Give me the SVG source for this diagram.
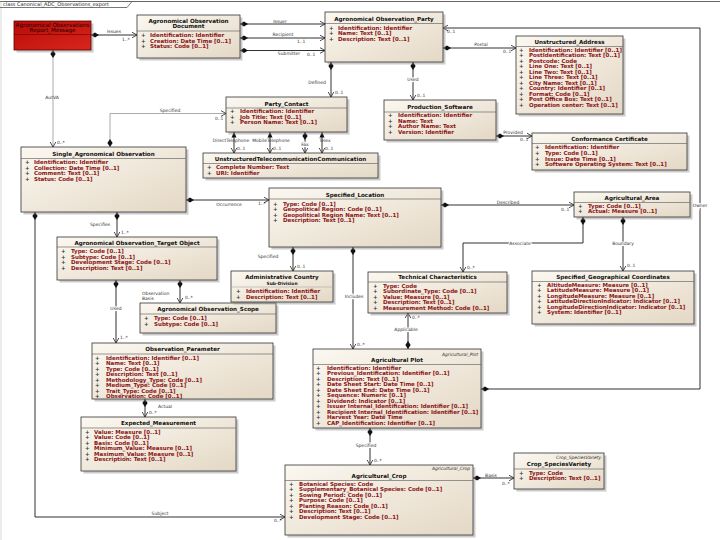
<svg xmlns="http://www.w3.org/2000/svg" width="720" height="540" viewBox="0 0 720 540">
<defs>
<linearGradient id="g" x1="0" y1="0" x2="1" y2="1"><stop offset="0" stop-color="#fbf8f1"/><stop offset="1" stop-color="#e4d8c5"/></linearGradient>
<linearGradient id="gr" x1="0" y1="0" x2="1" y2="1"><stop offset="0" stop-color="#b80c08"/><stop offset="1" stop-color="#d8261c"/></linearGradient>
<marker id="dia" markerUnits="userSpaceOnUse" markerWidth="10" markerHeight="6" refX="0" refY="0" orient="auto" overflow="visible"><path d="M0,0 L4,-2.6 L8,0 L4,2.6 Z" fill="#111"/></marker>
<marker id="arr" markerUnits="userSpaceOnUse" markerWidth="6" markerHeight="6" refX="0" refY="0" orient="auto" overflow="visible"><path d="M-5,-2.8 L0,0 L-5,2.8" fill="none" stroke="#222" stroke-width="0.8"/></marker>
<style>
.sh{fill:#8c8c8c;opacity:0.45}
.box{fill:url(#g);stroke:#333;stroke-width:0.8}
.sep{stroke:#555;stroke-width:0.6}
.t{font-family:"DejaVu Sans",sans-serif;font-weight:bold;font-size:5.6px;fill:#111;text-anchor:middle}
.st{font-family:"DejaVu Sans",sans-serif;font-style:italic;font-size:4.4px;fill:#333;text-anchor:end}
.a{font-family:"DejaVu Sans",sans-serif;font-weight:bold;font-size:5.5px;fill:#8a1414}
.pl{fill:#333}
.rt{font-family:"DejaVu Sans",sans-serif;font-size:5.6px;fill:#1a0000;text-anchor:middle}
.l{font-family:"DejaVu Sans",sans-serif;font-size:4.5px;fill:#333;text-anchor:middle}
.lb{font-family:"DejaVu Sans",sans-serif;font-size:4.5px;fill:#333;text-anchor:middle;paint-order:stroke;stroke:#fff;stroke-width:2.2}
.m{font-family:"DejaVu Sans",sans-serif;font-size:4.4px;fill:#333}
.c{fill:none;stroke:#1a1a1a;stroke-width:0.9;marker-end:url(#arr)}
.cd{fill:none;stroke:#1a1a1a;stroke-width:0.9;marker-start:url(#dia);marker-end:url(#arr)}
.cf{fill:none;stroke:#888;stroke-width:0.7;marker-start:url(#dia);marker-end:url(#arr)}
.tri{fill:#111}
</style>
</defs>
<rect width="720" height="540" fill="#fff"/>
<g id="frame">
<line x1="0" y1="1.5" x2="720" y2="1.5" stroke="#555" stroke-width="0.9"/>
<line x1="1" y1="1.5" x2="1" y2="540" stroke="#ccc" stroke-width="0.8"/>
<path d="M0,7.5 H127 L132,1.5" fill="none" stroke="#555" stroke-width="0.8"/>
<text x="3" y="6" font-family="DejaVu Sans, sans-serif" font-size="5px" fill="#222">class Canonical_ADC_Observations_export</text>
</g>

<g id="connectors">
<path class="cd" d="M91,35 H137"/>
<path class="cd" d="M240,24 H325"/>
<path class="cd" d="M240,38 H325"/>
<path class="cd" d="M240,50.5 H325"/>
<path class="cd" d="M331,62 V97"/>
<path class="cd" d="M413,62 V100"/>
<path class="cd" d="M443,48 H516"/>
<path class="cd" d="M481,389 H700 V28 H443"/>
<path class="cd" d="M496,136 H532"/>
<path class="c" d="M234,132 V153"/>
<path class="c" d="M270,132 V153"/>
<path class="cd" d="M305,132 V153"/>
<path class="c" d="M322,132 V153"/>
<polygon class="tri" points="231.5,137.5 234,132 236.5,137.5"/>
<polygon class="tri" points="267.5,137.5 270,132 272.5,137.5"/>
<polygon class="tri" points="319.5,137.5 322,132 324.5,137.5"/>
<path class="cf" d="M110,147 V113.5 H226"/>
<path class="cf" d="M53,50 V147"/>
<path class="cd" d="M186,200 H269"/>
<path class="cd" d="M117,212 V237"/>
<path class="cd" d="M35,212 V517 H285"/>
<path class="cd" d="M180,280 V303"/>
<path class="cd" d="M116,280 V343"/>
<path class="cd" d="M145,399 V417"/>
<path class="cd" d="M441,205 H574"/>
<path class="cd" d="M293,247 V271"/>
<path class="cd" d="M353,247 V349"/>
<path class="cd" d="M583,217 V243 H463 V272"/>
<path class="cd" d="M623,217 V271"/>
<path class="cd" d="M408,349 V313"/>
<path class="cd" d="M370,428 V465"/>
<path class="cd" d="M473,478 H514"/>

<text class="l" x="114" y="32.5">Issues</text>
<text class="m" x="122" y="41">1..*</text>
<text class="l" x="280" y="22.5">Issuer</text>
<text class="l" x="283" y="35.5">Recipient</text>
<text class="m" x="297" y="43">1..1</text>
<text class="l" x="289" y="55">Submitter</text>
<text class="m" x="307" y="55.5">0..1</text>
<text class="l" x="317" y="84">Defined</text>
<text class="m" x="335" y="94">0..1</text>
<text class="lb" x="413" y="80.5">Used</text>
<text class="m" x="417" y="97">0..1</text>
<text class="l" x="481" y="45.5">Postal</text>
<text class="m" x="503" y="53">0..1</text>
<text class="m" x="447" y="33">0..1</text>
<text class="lb" x="700" y="207">Owner</text>
<text class="l" x="513" y="134">Provided</text>
<text class="m" x="520" y="141">0..1</text>
<text class="l" x="231" y="142">DirectTelephone</text>
<text class="l" x="271" y="142">MobileTelephone</text>
<text class="lb" x="305" y="145.5">Fax</text>
<text class="l" x="325" y="142">Telex</text>
<text class="m" x="237" y="150">0..1</text>
<text class="m" x="273" y="150">0..1</text>
<text class="m" x="325" y="150">0..1</text>
<text class="l" x="170" y="112">Specified</text>
<text class="m" x="215" y="119.5">0..1</text>
<text class="l" x="52" y="98.5">AutVA</text>
<text class="m" x="57" y="144">0..*</text>
<text class="l" x="229" y="206">Occurrence</text>
<text class="m" x="258" y="204.5">1..*</text>
<text class="l" x="100" y="225.5">Specifies</text>
<text class="m" x="121" y="234">1..*</text>
<text class="l" x="160" y="515">Subject</text>
<text class="m" x="274" y="522">0..*</text>
<text class="l" x="142" y="294.5" style="text-anchor:start">Observation</text>
<text class="l" x="142" y="299.5" style="text-anchor:start">Basis</text>
<text class="m" x="185" y="298.5">0..*</text>
<text class="lb" x="116" y="309.5">Used</text>
<text class="m" x="120" y="339">1..*</text>
<text class="l" x="165" y="408">Actual</text>
<text class="m" x="149" y="413.5">0..*</text>
<text class="l" x="508" y="204">Described</text>
<text class="m" x="561" y="210.5">0..1</text>
<text class="l" x="268" y="258">Specified</text>
<text class="m" x="297" y="268">0..1</text>
<text class="lb" x="354" y="297.5">Includes</text>
<text class="m" x="357" y="346">0..*</text>
<text class="lb" x="520" y="244.5">Associate</text>
<text class="m" x="467" y="268.5">0..*</text>
<text class="lb" x="623" y="244.5">Boundary</text>
<text class="m" x="627" y="266.5">0..1</text>
<text class="lb" x="406" y="330.5">Applicable</text>
<text class="m" x="412" y="318.5">0..*</text>
<text class="lb" x="366" y="446.5">Specified</text>
<text class="m" x="374" y="461.5">0..*</text>
<text class="l" x="491" y="477">Basis</text>
<text class="m" x="502" y="484.5">0..*</text>
</g>

<g id="report-message">
<rect class="sh" x="16.5" y="23.5" width="77" height="29"/>
<rect x="14" y="21" width="77" height="29" fill="url(#gr)" stroke="#5a0000" stroke-width="0.8"/>
<text class="rt" x="52.5" y="26.8">Agronomical Observations</text>
<text class="rt" x="52.5" y="32">Report_Message</text>
<line x1="14" y1="34.5" x2="91" y2="34.5" stroke="#6a0000" stroke-width="0.6"/>
</g>

<g id="observation-document">
<rect class="sh" x="139.5" y="17.5" width="103" height="43"/>
<rect class="box" x="137" y="15" width="103" height="43"/>
<text class="t" x="188.5" y="22.5">Agronomical Observation</text>
<text class="t" x="188.5" y="28">Document</text>
<line class="sep" x1="137" y1="31" x2="240" y2="31"/>
<text class="a" y="37"><tspan class="pl" x="141">+</tspan><tspan x="150">Identification: Identifier</tspan></text>
<text class="a" y="42.5"><tspan class="pl" x="141">+</tspan><tspan x="150">Creation: Date Time [0..1]</tspan></text>
<text class="a" y="48"><tspan class="pl" x="141">+</tspan><tspan x="150">Status: Code [0..1]</tspan></text>
</g>

<g id="observation-party">
<rect class="sh" x="327.5" y="14.5" width="118" height="50"/>
<rect class="box" x="325" y="12" width="118" height="50"/>
<text class="t" x="384" y="21">Agronomical Observation_Party</text>
<line class="sep" x1="325" y1="23.5" x2="443" y2="23.5"/>
<text class="a" y="29.5"><tspan class="pl" x="329">+</tspan><tspan x="338">Identification: Identifier</tspan></text>
<text class="a" y="35"><tspan class="pl" x="329">+</tspan><tspan x="338">Name: Text [0..1]</tspan></text>
<text class="a" y="40.5"><tspan class="pl" x="329">+</tspan><tspan x="338">Description: Text [0..1]</tspan></text>
</g>

<g id="unstructured-address">
<rect class="sh" x="518.5" y="38.5" width="107" height="78"/>
<rect class="box" x="516" y="36" width="107" height="78"/>
<text class="t" x="569.5" y="44">Unstructured_Address</text>
<line class="sep" x1="516" y1="46.5" x2="623" y2="46.5"/>
<text class="a" y="52"><tspan class="pl" x="519">+</tspan><tspan x="529">Identification: Identifier [0..1]</tspan></text>
<text class="a" y="57.45"><tspan class="pl" x="519">+</tspan><tspan x="529">PostIdentification: Text [0..1]</tspan></text>
<text class="a" y="62.9"><tspan class="pl" x="519">+</tspan><tspan x="529">Postcode: Code</tspan></text>
<text class="a" y="68.35"><tspan class="pl" x="519">+</tspan><tspan x="529">Line One: Text [0..1]</tspan></text>
<text class="a" y="73.8"><tspan class="pl" x="519">+</tspan><tspan x="529">Line Two: Text [0..1]</tspan></text>
<text class="a" y="79.25"><tspan class="pl" x="519">+</tspan><tspan x="529">Line Three: Text [0..1]</tspan></text>
<text class="a" y="84.7"><tspan class="pl" x="519">+</tspan><tspan x="529">City Name: Text [0..1]</tspan></text>
<text class="a" y="90.15"><tspan class="pl" x="519">+</tspan><tspan x="529">Country: Identifier [0..1]</tspan></text>
<text class="a" y="95.6"><tspan class="pl" x="519">+</tspan><tspan x="529">Format: Code [0..1]</tspan></text>
<text class="a" y="101.05"><tspan class="pl" x="519">+</tspan><tspan x="529">Post Office Box: Text [0..1]</tspan></text>
<text class="a" y="106.5"><tspan class="pl" x="519">+</tspan><tspan x="529">Operation center: Text [0..1]</tspan></text>
</g>

<g id="production-software">
<rect class="sh" x="386.5" y="102.5" width="112" height="40"/>
<rect class="box" x="384" y="100" width="112" height="40"/>
<text class="t" x="440" y="109">Production_Software</text>
<line class="sep" x1="384" y1="112" x2="496" y2="112"/>
<text class="a" y="117"><tspan class="pl" x="388">+</tspan><tspan x="398">Identification: Identifier</tspan></text>
<text class="a" y="122.5"><tspan class="pl" x="388">+</tspan><tspan x="398">Name: Text</tspan></text>
<text class="a" y="128"><tspan class="pl" x="388">+</tspan><tspan x="398">Author Name: Text</tspan></text>
<text class="a" y="133.5"><tspan class="pl" x="388">+</tspan><tspan x="398">Version: Identifier</tspan></text>
</g>

<g id="conformance-certificate">
<rect class="sh" x="534.5" y="135.5" width="155" height="37"/>
<rect class="box" x="532" y="133" width="155" height="37"/>
<text class="t" x="609.5" y="141">Conformance Certificate</text>
<line class="sep" x1="532" y1="143.5" x2="687" y2="143.5"/>
<text class="a" y="149"><tspan class="pl" x="535">+</tspan><tspan x="545">Identification: Identifier</tspan></text>
<text class="a" y="154.8"><tspan class="pl" x="535">+</tspan><tspan x="545">Type: Code [0..1]</tspan></text>
<text class="a" y="160.6"><tspan class="pl" x="535">+</tspan><tspan x="545">Issue: Date Time [0..1]</tspan></text>
<text class="a" y="166.4"><tspan class="pl" x="535">+</tspan><tspan x="545">Software Operating System: Text [0..1]</tspan></text>
</g>

<g id="party-contact">
<rect class="sh" x="228.5" y="99.5" width="121" height="35"/>
<rect class="box" x="226" y="97" width="121" height="35"/>
<text class="t" x="286.5" y="105.5">Party_Contact</text>
<line class="sep" x1="226" y1="108" x2="347" y2="108"/>
<text class="a" y="113"><tspan class="pl" x="230">+</tspan><tspan x="240">Identification: Identifier</tspan></text>
<text class="a" y="118.5"><tspan class="pl" x="230">+</tspan><tspan x="240">Job Title: Text [0..1]</tspan></text>
<text class="a" y="124"><tspan class="pl" x="230">+</tspan><tspan x="240">Person Name: Text [0..1]</tspan></text>
</g>

<g id="telecommunication">
<rect class="sh" x="205.5" y="155.5" width="175" height="25"/>
<rect class="box" x="203" y="153" width="175" height="25"/>
<text class="t" x="290.5" y="161">UnstructuredTelecommunicationCommunication</text>
<line class="sep" x1="203" y1="163.5" x2="378" y2="163.5"/>
<text class="a" y="169"><tspan class="pl" x="207">+</tspan><tspan x="216">Complete Number: Text</tspan></text>
<text class="a" y="174.5"><tspan class="pl" x="207">+</tspan><tspan x="216">URI: Identifier</tspan></text>
</g>

<g id="single-observation">
<rect class="sh" x="23.5" y="149.5" width="165" height="65"/>
<rect class="box" x="21" y="147" width="165" height="65"/>
<text class="t" x="103.5" y="156">Single_Agronomical Observation</text>
<line class="sep" x1="21" y1="158.5" x2="186" y2="158.5"/>
<text class="a" y="164"><tspan class="pl" x="25">+</tspan><tspan x="34">Identification: Identifier</tspan></text>
<text class="a" y="169.5"><tspan class="pl" x="25">+</tspan><tspan x="34">Collection: Date Time [0..1]</tspan></text>
<text class="a" y="175"><tspan class="pl" x="25">+</tspan><tspan x="34">Comment: Text [0..1]</tspan></text>
<text class="a" y="180.5"><tspan class="pl" x="25">+</tspan><tspan x="34">Status: Code [0..1]</tspan></text>
</g>

<g id="target-object">
<rect class="sh" x="59.5" y="239.5" width="160" height="43"/>
<rect class="box" x="57" y="237" width="160" height="43"/>
<text class="t" x="137" y="244.5">Agronomical Observation_Target Object</text>
<line class="sep" x1="57" y1="247" x2="217" y2="247"/>
<text class="a" y="253"><tspan class="pl" x="61">+</tspan><tspan x="71">Type: Code [0..1]</tspan></text>
<text class="a" y="258.5"><tspan class="pl" x="61">+</tspan><tspan x="71">Subtype: Code [0..1]</tspan></text>
<text class="a" y="264"><tspan class="pl" x="61">+</tspan><tspan x="71">Development Stage: Code [0..1]</tspan></text>
<text class="a" y="269.5"><tspan class="pl" x="61">+</tspan><tspan x="71">Description: Text [0..1]</tspan></text>
</g>

<g id="observation-scope">
<rect class="sh" x="142.5" y="305.5" width="136" height="30"/>
<rect class="box" x="140" y="303" width="136" height="30"/>
<text class="t" x="208" y="311">Agronomical Observation_Scope</text>
<line class="sep" x1="140" y1="314" x2="276" y2="314"/>
<text class="a" y="320"><tspan class="pl" x="144">+</tspan><tspan x="154">Type: Code [0..1]</tspan></text>
<text class="a" y="325.5"><tspan class="pl" x="144">+</tspan><tspan x="154">Subtype: Code [0..1]</tspan></text>
</g>

<g id="observation-parameter">
<rect class="sh" x="94.5" y="345.5" width="181" height="56"/>
<rect class="box" x="92" y="343" width="181" height="56"/>
<text class="t" x="182.5" y="351">Observation_Parameter</text>
<line class="sep" x1="92" y1="354" x2="273" y2="354"/>
<text class="a" y="360"><tspan class="pl" x="95">+</tspan><tspan x="106">Identification: Identifier [0..1]</tspan></text>
<text class="a" y="365.45"><tspan class="pl" x="95">+</tspan><tspan x="106">Name: Text [0..1]</tspan></text>
<text class="a" y="370.9"><tspan class="pl" x="95">+</tspan><tspan x="106">Type: Code [0..1]</tspan></text>
<text class="a" y="376.35"><tspan class="pl" x="95">+</tspan><tspan x="106">Description: Text [0..1]</tspan></text>
<text class="a" y="381.8"><tspan class="pl" x="95">+</tspan><tspan x="106">Methodology_Type: Code [0..1]</tspan></text>
<text class="a" y="387.25"><tspan class="pl" x="95">+</tspan><tspan x="106">Medium_Type: Code [0..1]</tspan></text>
<text class="a" y="392.7"><tspan class="pl" x="95">+</tspan><tspan x="106">Trait_Type: Code [0..1]</tspan></text>
<text class="a" y="398.15"><tspan class="pl" x="95">+</tspan><tspan x="106">Observation: Code [0..1]</tspan></text>
</g>

<g id="expected-measurement">
<rect class="sh" x="83.5" y="419.5" width="155" height="54"/>
<rect class="box" x="81" y="417" width="155" height="54"/>
<text class="t" x="158.5" y="425">Expected_Measurement</text>
<line class="sep" x1="81" y1="428" x2="236" y2="428"/>
<text class="a" y="434"><tspan class="pl" x="85">+</tspan><tspan x="94">Value: Measure [0..1]</tspan></text>
<text class="a" y="439.45"><tspan class="pl" x="85">+</tspan><tspan x="94">Value: Code [0..1]</tspan></text>
<text class="a" y="444.9"><tspan class="pl" x="85">+</tspan><tspan x="94">Basis: Code [0..1]</tspan></text>
<text class="a" y="450.35"><tspan class="pl" x="85">+</tspan><tspan x="94">Minimum_Value: Measure [0..1]</tspan></text>
<text class="a" y="455.8"><tspan class="pl" x="85">+</tspan><tspan x="94">Maximum_Value: Measure [0..1]</tspan></text>
<text class="a" y="461.25"><tspan class="pl" x="85">+</tspan><tspan x="94">Description: Text [0..1]</tspan></text>
</g>

<g id="specified-location">
<rect class="sh" x="271.5" y="190.5" width="172" height="59"/>
<rect class="box" x="269" y="188" width="172" height="59"/>
<text class="t" x="355" y="196.5">Specified_Location</text>
<line class="sep" x1="269" y1="199" x2="441" y2="199"/>
<text class="a" y="205.5"><tspan class="pl" x="273">+</tspan><tspan x="283">Type: Code [0..1]</tspan></text>
<text class="a" y="211"><tspan class="pl" x="273">+</tspan><tspan x="283">Geopolitical Region: Code [0..1]</tspan></text>
<text class="a" y="216.5"><tspan class="pl" x="273">+</tspan><tspan x="283">Geopolitical Region Name: Text [0..1]</tspan></text>
<text class="a" y="222"><tspan class="pl" x="273">+</tspan><tspan x="283">Description: Text [0..1]</tspan></text>
</g>

<g id="agricultural-area">
<rect class="sh" x="576.5" y="194.5" width="116" height="25"/>
<rect class="box" x="574" y="192" width="116" height="25"/>
<text class="t" x="632" y="200">Agricultural_Area</text>
<line class="sep" x1="574" y1="202.5" x2="690" y2="202.5"/>
<text class="a" y="207.8"><tspan class="pl" x="578">+</tspan><tspan x="588">Type: Code [0..1]</tspan></text>
<text class="a" y="213.3"><tspan class="pl" x="578">+</tspan><tspan x="588">Actual: Measure [0..1]</tspan></text>
</g>

<g id="geographical-coordinates">
<rect class="sh" x="534.5" y="273.5" width="162" height="53"/>
<rect class="box" x="532" y="271" width="162" height="53"/>
<text class="t" x="613" y="279">Specified_Geographical Coordinates</text>
<line class="sep" x1="532" y1="281.5" x2="694" y2="281.5"/>
<text class="a" y="287"><tspan class="pl" x="537">+</tspan><tspan x="547">AltitudeMeasure: Measure [0..1]</tspan></text>
<text class="a" y="292.45"><tspan class="pl" x="537">+</tspan><tspan x="547">LatitudeMeasure: Measure [0..1]</tspan></text>
<text class="a" y="297.9"><tspan class="pl" x="537">+</tspan><tspan x="547">LongitudeMeasure: Measure [0..1]</tspan></text>
<text class="a" y="303.35"><tspan class="pl" x="537">+</tspan><tspan x="547">LatitudeDirectionIndicator: Indicator [0..1]</tspan></text>
<text class="a" y="308.8"><tspan class="pl" x="537">+</tspan><tspan x="547">LongitudeDirectionIndicator: Indicator [0..1]</tspan></text>
<text class="a" y="314.25"><tspan class="pl" x="537">+</tspan><tspan x="547">System: Identifier [0..1]</tspan></text>
</g>

<g id="administrative-country">
<rect class="sh" x="233.5" y="273.5" width="102" height="31"/>
<rect class="box" x="231" y="271" width="102" height="31"/>
<text class="t" x="282" y="279">Administrative Country</text>
<text class="t" x="282" y="284.5" style="font-size:4.4px">Sub-Division</text>
<line class="sep" x1="231" y1="287" x2="333" y2="287" style="stroke:#aaa"/>
<text class="a" y="293"><tspan class="pl" x="236">+</tspan><tspan x="246">Identification: Identifier</tspan></text>
<text class="a" y="298.5"><tspan class="pl" x="236">+</tspan><tspan x="246">Description: Text [0..1]</tspan></text>
</g>

<g id="technical-characteristics">
<rect class="sh" x="370.5" y="274.5" width="139" height="41"/>
<rect class="box" x="368" y="272" width="139" height="41"/>
<text class="t" x="437.5" y="279">Technical Characteristics</text>
<line class="sep" x1="368" y1="282" x2="507" y2="282"/>
<text class="a" y="287.5"><tspan class="pl" x="373">+</tspan><tspan x="383">Type: Code</tspan></text>
<text class="a" y="293"><tspan class="pl" x="373">+</tspan><tspan x="383">Subordinate_Type: Code [0..1]</tspan></text>
<text class="a" y="298.5"><tspan class="pl" x="373">+</tspan><tspan x="383">Value: Measure [0..1]</tspan></text>
<text class="a" y="304"><tspan class="pl" x="373">+</tspan><tspan x="383">Description: Text [0..1]</tspan></text>
<text class="a" y="309.5"><tspan class="pl" x="373">+</tspan><tspan x="383">Measurement Method: Code [0..1]</tspan></text>
</g>

<g id="agricultural-plot">
<rect class="sh" x="315.5" y="351.5" width="168" height="79"/>
<rect class="box" x="313" y="349" width="168" height="79"/>
<text class="st" x="478" y="355.5">Agricultural_Plot</text>
<text class="t" x="397" y="362">Agricultural Plot</text>
<line class="sep" x1="313" y1="364.5" x2="481" y2="364.5"/>
<text class="a" y="369.5"><tspan class="pl" x="316">+</tspan><tspan x="327">Identification: Identifier</tspan></text>
<text class="a" y="375.05"><tspan class="pl" x="316">+</tspan><tspan x="327">Previous_Identification: Identifier [0..1]</tspan></text>
<text class="a" y="380.6"><tspan class="pl" x="316">+</tspan><tspan x="327">Description: Text [0..1]</tspan></text>
<text class="a" y="386.15"><tspan class="pl" x="316">+</tspan><tspan x="327">Date Sheet Start: Date Time [0..1]</tspan></text>
<text class="a" y="391.7"><tspan class="pl" x="316">+</tspan><tspan x="327">Date Sheet End: Date Time [0..1]</tspan></text>
<text class="a" y="397.25"><tspan class="pl" x="316">+</tspan><tspan x="327">Sequence: Numeric [0..1]</tspan></text>
<text class="a" y="402.8"><tspan class="pl" x="316">+</tspan><tspan x="327">Dividend: Indicator [0..1]</tspan></text>
<text class="a" y="408.35"><tspan class="pl" x="316">+</tspan><tspan x="327">Issuer Internal_Identification: Identifier [0..1]</tspan></text>
<text class="a" y="413.9"><tspan class="pl" x="316">+</tspan><tspan x="327">Recipient Internal_Identification: Identifier [0..1]</tspan></text>
<text class="a" y="419.45"><tspan class="pl" x="316">+</tspan><tspan x="327">Harvest Year: Date Time</tspan></text>
<text class="a" y="425"><tspan class="pl" x="316">+</tspan><tspan x="327">CAP_Identification: Identifier [0..1]</tspan></text>
</g>

<g id="agricultural-crop">
<rect class="sh" x="287.5" y="467.5" width="188" height="70"/>
<rect class="box" x="285" y="465" width="188" height="70"/>
<text class="st" x="470" y="470">Agricultural_Crop</text>
<text class="t" x="379" y="478">Agricultural_Crop</text>
<line class="sep" x1="285" y1="480.5" x2="473" y2="480.5"/>
<text class="a" y="486"><tspan class="pl" x="289">+</tspan><tspan x="299">Botanical Species: Code</tspan></text>
<text class="a" y="491.45"><tspan class="pl" x="289">+</tspan><tspan x="299">Supplementary_Botanical Species: Code [0..1]</tspan></text>
<text class="a" y="496.9"><tspan class="pl" x="289">+</tspan><tspan x="299">Sowing Period: Code [0..1]</tspan></text>
<text class="a" y="502.35"><tspan class="pl" x="289">+</tspan><tspan x="299">Purpose: Code [0..1]</tspan></text>
<text class="a" y="507.8"><tspan class="pl" x="289">+</tspan><tspan x="299">Planting Reason: Code [0..1]</tspan></text>
<text class="a" y="513.25"><tspan class="pl" x="289">+</tspan><tspan x="299">Description: Text [0..1]</tspan></text>
<text class="a" y="518.7"><tspan class="pl" x="289">+</tspan><tspan x="299">Development Stage: Code [0..1]</tspan></text>
</g>

<g id="crop-species-variety">
<rect class="sh" x="516.5" y="455.5" width="90" height="36"/>
<rect class="box" x="514" y="453" width="90" height="36"/>
<text class="st" x="601" y="458.5">Crop_SpeciesVariety</text>
<text class="t" x="559" y="466">Crop_SpeciesVariety</text>
<line class="sep" x1="514" y1="469" x2="604" y2="469"/>
<text class="a" y="474.5"><tspan class="pl" x="519">+</tspan><tspan x="529">Type: Code</tspan></text>
<text class="a" y="480"><tspan class="pl" x="519">+</tspan><tspan x="529">Description: Text [0..1]</tspan></text>
</g>
</svg>
